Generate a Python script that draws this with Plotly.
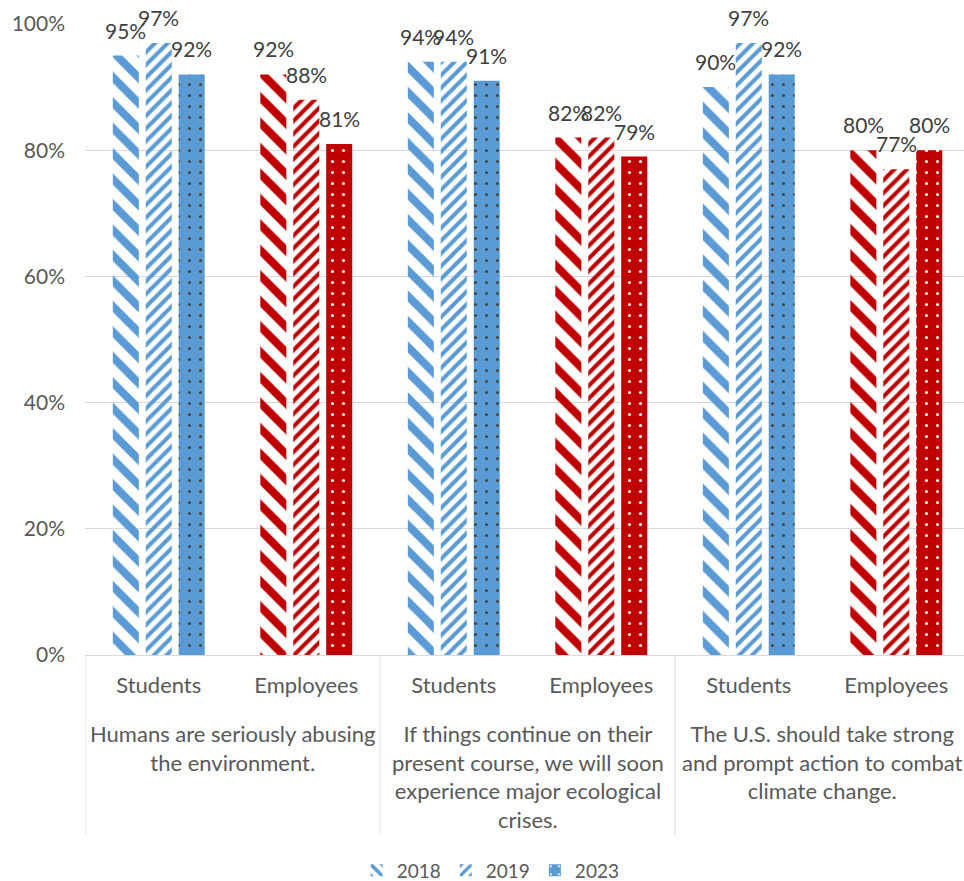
import plotly.graph_objects as go

# Survey statements and respondent groups
statements = [
    "Humans are seriously abusing<br>the environment.",
    "If things continue on their<br>present course, we will soon<br>experience major ecological<br>crises.",
    "The U.S. should take strong<br>and prompt action to combat<br>climate change.",
]
groups = ["Students", "Employees"]

# Share agreeing, per year, ordered statement by statement (Students, Employees)
years = ["2018", "2019", "2023"]
values_2018 = [0.95, 0.92, 0.94, 0.82, 0.90, 0.80]
values_2019 = [0.97, 0.88, 0.94, 0.82, 0.97, 0.77]
values_2023 = [0.92, 0.81, 0.91, 0.79, 0.92, 0.80]
year_values = [values_2018, values_2019, values_2023]

BLUE = "#5B9BD5"
RED = "#C00000"
group_colors = {"Students": BLUE, "Employees": RED}

# One category per (statement, group); tick text shows only the group
cat_keys = [f"{si}-{g}" for si in range(len(statements)) for g in groups]
cat_text = [g for _ in statements for g in groups]
bar_colors = [group_colors[g] for g in cat_text]

FONT = "Lato"
TEXT_GREY = "#595959"
LABEL_GREY = "#404040"
GRID = "#D9D9D9"
BARGAP = 0.33

fig = go.Figure()

styles = {
    "2018": dict(shape="\\", size=18, solidity=0.45, fgcolor=bar_colors,
                 bgcolor="white", fillmode="replace"),
    "2019": dict(shape="/", size=9, solidity=0.45, fgcolor=bar_colors,
                 bgcolor="white", fillmode="replace"),
    "2023": dict(shape=".", size=11, solidity=0.06, fgcolor="white",
                 fgopacity=1, fillmode="overlay"),
}

for year, vals in zip(years, year_values):
    fig.add_trace(go.Bar(
        name=year,
        x=cat_keys,
        y=vals,
        marker=dict(color=bar_colors, line=dict(width=0), pattern=styles[year]),
    ))

# Value labels above each bar, centred on its slot within the group
annotations = []
slot = (1 - BARGAP) / len(years)
for k, vals in enumerate(year_values):
    for i, v in enumerate(vals):
        annotations.append(dict(
            x=i + (k - (len(years) - 1) / 2) * slot, xref="x",
            y=v, yref="y",
            text=f"{round(v * 100)}%",
            showarrow=False, yanchor="bottom", yshift=11,
            font=dict(family=FONT, size=21, color=LABEL_GREY),
        ))

# Statement labels under each pair of groups, with dividers between statements
shapes = []
for si, text in enumerate(statements):
    annotations.append(dict(
        x=si * len(groups) + (len(groups) - 1) / 2, xref="x",
        y=-0.1, yref="paper", yanchor="top",
        text=text, align="center", showarrow=False,
        font=dict(family=FONT, size=22, color=TEXT_GREY),
    ))
for si in range(len(statements) + 1):
    xd = si * len(groups) - 0.5
    shapes.append(dict(
        type="line", xref="x", yref="paper",
        x0=xd, x1=xd, y0=0, y1=-0.285,
        line=dict(color=GRID, width=1),
    ))

fig.update_layout(
    width=964,
    height=881,
    margin=dict(l=85, r=0, t=24, b=226),
    paper_bgcolor="white",
    plot_bgcolor="white",
    barmode="group",
    bargap=BARGAP,
    bargroupgap=0.21,
    font=dict(family=FONT, color=TEXT_GREY),
    showlegend=True,
    legend=dict(
        orientation="h",
        xref="container", yref="container",
        x=0.509, xanchor="center",
        y=0.012, yanchor="middle",
        font=dict(family=FONT, size=19, color=TEXT_GREY),
        itemwidth=30,
    ),
    annotations=annotations,
    shapes=shapes,
    xaxis=dict(
        type="category",
        range=[-0.5, 5.459],
        tickmode="array",
        tickvals=cat_keys,
        ticktext=cat_text,
        showline=True,
        linecolor=GRID,
        linewidth=1,
        ticks="",
        ticklabelstandoff=11,
        tickfont=dict(family=FONT, size=22, color=TEXT_GREY),
        showgrid=False,
    ),
    yaxis=dict(
        range=[0, 1],
        dtick=0.2,
        tickformat=".0%",
        showgrid=True,
        gridcolor=GRID,
        gridwidth=1,
        zeroline=False,
        showline=False,
        ticklabelstandoff=19,
        tickfont=dict(family=FONT, size=21, color=TEXT_GREY),
    ),
)

fig.write_html("out.html")
